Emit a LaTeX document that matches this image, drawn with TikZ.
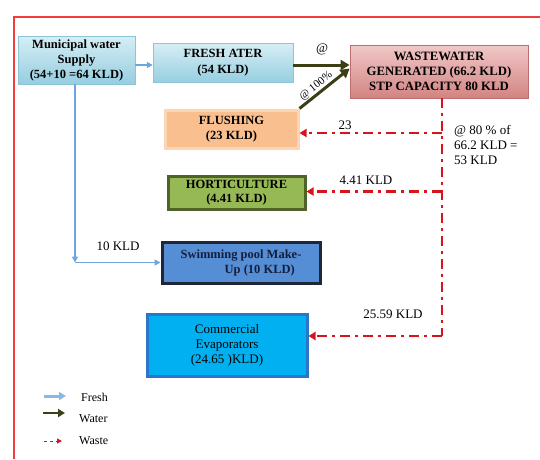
\documentclass[tikz,border=0pt]{standalone}
\usepackage{fontspec}
\setmainfont{Liberation Serif}
\usetikzlibrary{arrows.meta,calc}
\definecolor{freshc}{RGB}{110,165,220}
\definecolor{waterc}{RGB}{60,62,20}
\definecolor{wastec}{RGB}{215,20,30}
\definecolor{framec}{RGB}{240,60,60}
\definecolor{cyantop}{RGB}{214,238,245}
\definecolor{cyanbot}{RGB}{150,206,224}
\definecolor{cyanbd}{RGB}{140,196,216}
\definecolor{pinktop}{RGB}{240,200,200}
\definecolor{pinkbot}{RGB}{210,132,130}
\definecolor{pinkbd}{RGB}{190,110,110}
\tikzset{
  box/.style={draw, rectangle, align=center, font=\fontsize{12.5}{15}\selectfont\bfseries, inner sep=2pt},
  freshln/.style={draw=freshc, line width=1.6pt, -{Triangle[length=6pt,width=6pt]}},
  waterln/.style={draw=waterc, line width=3pt, -{Triangle[length=9pt,width=10pt]}},
  wasteln/.style={draw=wastec, line width=2.8pt, dash pattern=on 10pt off 5pt on 3pt off 5pt, -{Triangle[length=7pt,width=8pt]}},
  lbl/.style={font=\fontsize{13}{15}\selectfont, inner sep=1pt},
  leg/.style={anchor=west, font=\fontsize{12}{14}\selectfont, inner sep=1pt}
}
\begin{document}
\begin{tikzpicture}[x=1pt,y=-1pt]
\useasboundingbox (0,0) rectangle (540,459);
\draw[framec, line width=2pt] (14,459) -- (14,17) -- (540,17);

\node[box, draw=cyanbd, top color=cyantop, bottom color=cyanbot, minimum width=117pt, minimum height=48pt] (muni) at (76.5,60) {Municipal water\\Supply\\(54+10 =64 KLD)};
\node[box, draw=cyanbd, top color=cyantop, bottom color=cyanbot, minimum width=140pt, minimum height=39pt, font=\fontsize{12.5}{16}\selectfont\bfseries] (fresh) at (223,63) {FRESH ATER\\(54 KLD)};
\node[box, draw=pinkbd, line width=0.8pt, top color=pinktop, bottom color=pinkbot, minimum width=178pt, minimum height=53pt, font=\fontsize{12.75}{15}\selectfont\bfseries] (ww) at (439,71.5) {WASTEWATER\\GENERATED (66.2 KLD)\\STP CAPACITY 80 KLD};
\node[box, draw={rgb,255:red,252;green,213;blue,180}, line width=3pt, fill={rgb,255:red,250;green,191;blue,143}, minimum width=133pt, minimum height=38pt] (flush) at (231.5,129) {FLUSHING\\(23 KLD)};
\node[box, draw={rgb,255:red,79;green,98;blue,40}, line width=3pt, fill={rgb,255:red,150;green,185;blue,85}, minimum width=137pt, minimum height=33pt, font=\fontsize{12.5}{14}\selectfont\bfseries] (hort) at (236.5,192.5) {HORTICULTURE\\(4.41 KLD)};
\node[box, draw={rgb,255:red,30;green,38;blue,55}, line width=3pt, fill={rgb,255:red,85;green,142;blue,213}, text={rgb,255:red,20;green,30;blue,60}, minimum width=158pt, minimum height=41pt] (swim) at (241,262.5) {Swimming pool Make-\\\hspace*{3em}Up (10 KLD)};
\node[box, draw={rgb,255:red,46;green,117;blue,200}, line width=3pt, fill={rgb,255:red,0;green,176;blue,240}, minimum width=160pt, minimum height=62pt, font=\fontsize{13}{15}\selectfont] (comm) at (227,345) {Commercial\\Evaporators\\(24.65 )KLD)};

% fresh water
\draw[freshln] (muni.east |- 0,65) -- (fresh.west |- 0,65);
\coordinate (corner) at (75,262.5);
\draw[freshln] (75,84) -- (corner);
\draw[freshln] (corner) -- (swim.west);
\node[lbl] (l10) at (118,246) {10 KLD};

% water to wastewater
\draw[waterln] (fresh.east |- 0,65) -- (ww.west |- 0,65);
\node[lbl] (lat) at (322,49) {@};
\draw[waterln] (flush.north east) -- node[sloped, above, pos=0.42, inner sep=1pt, font=\fontsize{11}{12}\selectfont] {@ 100\%} ($(ww.west)+(0,-3)$);

% waste
\coordinate (w1) at (442,133);
\coordinate (w2) at (442,191.5);
\coordinate (w3) at (442,336);
\draw[wastec, line width=2.8pt, dash pattern=on 10pt off 5pt on 3pt off 5pt] (442,98) -- (w3);
\draw[wasteln] (w1) -- (flush.east |- w1);
\draw[wasteln] (w2) -- (hort.east |- w2);
\draw[wasteln] (w3) -- (comm.east |- w3);
\node[lbl] (l23) at (345,125) {23};
\node[lbl] (l441) at (366,180) {4.41 KLD};
\node[lbl] (l2559) at (393,314) {25.59 KLD};
\node[lbl, align=left, anchor=west] (l80) at (453,145) {@ 80 \% of\\66.2 KLD =\\53 KLD};

% legend
\draw[draw=freshc!80, line width=3pt, -{Triangle[length=7pt,width=8pt]}] (44,396) -- (66,396);
\draw[draw=waterc, line width=2.5pt, -{Triangle[length=7pt,width=8pt]}] (43,413) -- (65,413);
\draw[draw=wastec, line width=1pt, dashed, -{Triangle[length=5pt,width=5pt]}] (44,441) -- (62,441);
\node[leg] (lf) at (80,397) {Fresh};
\node[leg] (lw) at (78,419) {Water};
\node[leg] (lws) at (78,441) {Waste};
\end{tikzpicture}
\end{document}
